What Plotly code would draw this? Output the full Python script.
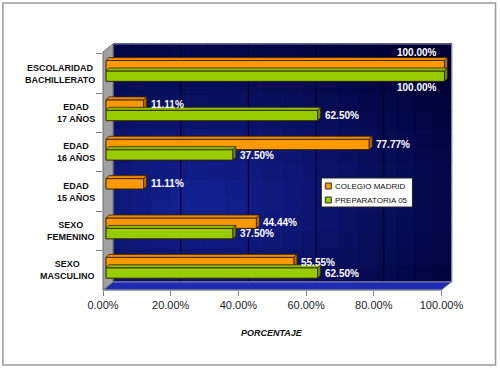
import plotly.graph_objects as go

# ---------------- data ----------------
categories = ["ESCOLARIDAD<br>BACHILLERATO", "EDAD<br>17 AÑOS", "EDAD<br>16 AÑOS",
              "EDAD<br>15 AÑOS", "SEXO<br>FEMENINO", "SEXO<br>MASCULINO"]
series_names = ["COLEGIO MADRID", "PREPARATORIA 05"]
colegio = [100.00, 11.11, 77.77, 11.11, 44.44, 55.55]
prepa = [100.00, 62.50, 37.50, None, 37.50, 62.50]
tick_vals = [0, 20, 40, 60, 80, 100]
tick_labels = ["0.00%", "20.00%", "40.00%", "60.00%", "80.00%", "100.00%"]
axis_title = "PORCENTAJE"

# ---------------- style ----------------
W, H = 500, 370
PPU = 3.38              # px per percent
XMAX = 104
ML, MT, MB = 103, 52, 80
PW = PPU * XMAX
MR = W - ML - PW
PH = H - MT - MB
DX, DY = 10, 8          # wall depth in px
BAR_SHIFT = 3           # bars sit 3px deep into the 3D box
ORANGE, GREEN = "#FF9900", "#99CC00"
SIDE = {ORANGE: "#B86A00", GREEN: "#6E8C00"}
TOP = {ORANGE: "#F08A00", GREEN: "#8CBB00"}
FONT = "Liberation Sans, Arial, sans-serif"
BAR_W = 0.265
OFFS = [-0.33, -0.065]

def px_x(px):
    return (px - ML) / PW

def px_y(py):
    return (H - MB - py) / PH

shift_units = BAR_SHIFT / PPU
dx_units = 3 / PPU
dy_units = 3 / (PH / len(categories))

fig = go.Figure()
# anchor trace for the main (tick) axis
fig.add_trace(go.Scatter(x=[None], y=[categories[0]], mode="markers", showlegend=False,
                         hoverinfo="skip"))
series = [colegio, prepa]
colors = [ORANGE, GREEN]
for nm, vals, col, off in zip(series_names, series, colors, OFFS):
    fig.add_trace(go.Bar(y=categories, x=vals, orientation="h", name=nm,
                         marker=dict(color=col, line=dict(color="#332200", width=1)),
                         width=BAR_W, offset=off, showlegend=False, hoverinfo="skip",
                         xaxis="x2"))

shapes = []
# back wall gradient
right_px = ML + 100 * PPU
bx0, bx1 = px_x(ML + DX), px_x(right_px + DX)
by0, by1 = px_y(MT + PH - DY), px_y(MT - DY)
dark = (0, 0, 50)
bright = (20, 34, 148)
NC, NR = 18, 14
for i in range(NC):
    for j in range(NR):
        u = (i + 0.5) / NC
        v = (j + 0.5) / NR
        d = (((u - 0.25) / 0.95) ** 2 + ((v - 0.35) / 0.8) ** 2) ** 0.5
        t = max(0.0, min(1.0, 1 - d))
        c = tuple(int(dark[k] + t * (bright[k] - dark[k])) for k in range(3))
        shapes.append(dict(type="rect", xref="paper", yref="paper", layer="below",
                           x0=bx0 + (bx1 - bx0) * i / NC, x1=bx0 + (bx1 - bx0) * (i + 1) / NC + 0.002,
                           y0=by0 + (by1 - by0) * j / NR, y1=by0 + (by1 - by0) * (j + 1) / NR + 0.003,
                           fillcolor="rgb(%d,%d,%d)" % c, line=dict(width=0)))
# back wall gridlines
for tv in tick_vals[1:-1]:
    xx = px_x(ML + PPU * tv + DX)
    shapes.append(dict(type="line", xref="paper", yref="paper", layer="below",
                       x0=xx, x1=xx, y0=by0, y1=by1, line=dict(color="#000028", width=1)))
shapes.append(dict(type="rect", xref="paper", yref="paper", layer="below",
                   x0=bx0, x1=bx1, y0=by0, y1=by1, line=dict(color="#7f7f9f", width=1)))
# floor
fx1 = px_x(right_px)
shapes.append(dict(type="path", xref="paper", yref="paper", layer="below",
                   path="M %f %f L %f %f L %f %f L %f %f Z" % (0, 0, fx1, 0, bx1, by0, bx0, by0),
                   fillcolor="#1e2cb4", line=dict(color="#8a8aa8", width=1)))
# left wall
shapes.append(dict(type="path", xref="paper", yref="paper", layer="below",
                   path="M %f %f L %f %f L %f %f L %f %f Z" % (0, 0, 0, 1, bx0, by1, bx0, by0),
                   fillcolor="#a0a0a0", line=dict(color="#6a6a6a", width=1)))
# front bottom edge
shapes.append(dict(type="line", xref="paper", yref="paper", layer="below",
                   x0=0, x1=fx1, y0=0, y1=0, line=dict(color="#808080", width=1)))
# outer frame
shapes.append(dict(type="rect", xref="paper", yref="paper", layer="below",
                   x0=px_x(3), x1=px_x(495), y0=px_y(365), y1=px_y(3),
                   line=dict(color="#9a9a9a", width=1.5)))

# 3D faces of the bars (top and right side), in the bars' own axis units
for vals, col, off in zip(series, colors, OFFS):
    for ci, v in enumerate(vals):
        if v is None:
            continue
        yt = ci + off
        yb = ci + off + BAR_W
        shapes.append(dict(type="path", xref="x2", yref="y", layer="above",
                           path="M 0 %f L %f %f L %f %f L %f %f Z" % (
                               yt, v, yt, v + dx_units, yt - dy_units, dx_units, yt - dy_units),
                           fillcolor=TOP[col], line=dict(color="#332200", width=0.8)))
        shapes.append(dict(type="path", xref="x2", yref="y", layer="above",
                           path="M %f %f L %f %f L %f %f L %f %f Z" % (
                               v, yt, v + dx_units, yt - dy_units, v + dx_units, yb - dy_units, v, yb),
                           fillcolor=SIDE[col], line=dict(color="#332200", width=0.8)))

annotations = []
# category labels (centered lines, right-aligned block)
for ci, cat in enumerate(categories):
    annotations.append(dict(x=px_x(97), y=ci, xref="paper", yref="y", text="<b>%s</b>" % cat,
                            showarrow=False, xanchor="right", yanchor="middle", align="center",
                            font=dict(family=FONT, size=9, color="#111")))
# value labels
for vals, ys_in, ys_full in [(colegio, 8, 21), (prepa, -3, -14)]:
    for cat, v in zip(categories, vals):
        if v is None:
            continue
        txt = "<b>%.2f%%</b>" % v
        if v >= 100:
            annotations.append(dict(x=v, y=cat, xref="x2", yref="y", text=txt, showarrow=False,
                                    xanchor="right", yanchor="middle", xshift=-5, yshift=ys_full,
                                    font=dict(family=FONT, size=10, color="white")))
        else:
            annotations.append(dict(x=v, y=cat, xref="x2", yref="y", text=txt, showarrow=False,
                                    xanchor="left", yanchor="middle", xshift=5, yshift=ys_in,
                                    font=dict(family=FONT, size=10, color="white")))
annotations.append(dict(x=px_x(272), y=px_y(333), xref="paper", yref="paper", showarrow=False,
                        text="<b><i>%s</i></b>" % axis_title, xanchor="center", yanchor="middle",
                        font=dict(family=FONT, size=9, color="#111")))

# legend box
shapes.append(dict(type="rect", xref="paper", yref="paper", layer="above",
                   x0=px_x(321), x1=px_x(412), y0=px_y(207), y1=px_y(178),
                   fillcolor="white", line=dict(color="#222", width=1)))
for k, (nm, col) in enumerate(zip(series_names, colors)):
    cy = 186 + 14 * k
    shapes.append(dict(type="rect", xref="paper", yref="paper", layer="above",
                       x0=px_x(325), x1=px_x(331), y0=px_y(cy + 3), y1=px_y(cy - 3),
                       fillcolor=col, line=dict(color="#333", width=1)))
    annotations.append(dict(x=px_x(333), y=px_y(cy), xref="paper", yref="paper", text=nm,
                            showarrow=False, xanchor="left", yanchor="middle",
                            font=dict(family=FONT, size=8, color="#111")))

fig.update_layout(
    width=W, height=H, margin=dict(l=ML, r=MR, t=MT, b=MB),
    paper_bgcolor="white", plot_bgcolor="rgba(0,0,0,0)",
    font=dict(family=FONT, color="#222"),
    barmode="group", shapes=shapes, annotations=annotations, showlegend=False,
    xaxis=dict(range=[0, XMAX], tickvals=tick_vals, ticktext=tick_labels,
               showgrid=False, zeroline=False, showline=False,
               ticks="outside", ticklen=5, tickcolor="#808080",
               tickfont=dict(family=FONT, size=11, color="#222"), fixedrange=True),
    xaxis2=dict(range=[-shift_units, XMAX - shift_units], overlaying="x", visible=False,
                fixedrange=True),
    yaxis=dict(autorange="reversed", showgrid=False, zeroline=False, showline=False,
               ticks="outside", ticklen=6, tickcolor="#808080", tickson="boundaries",
               showticklabels=False, fixedrange=True),
)

fig.write_html("out.html", config={"displayModeBar": False},
               post_script="document.body.style.margin='0';document.body.style.padding='0';")
